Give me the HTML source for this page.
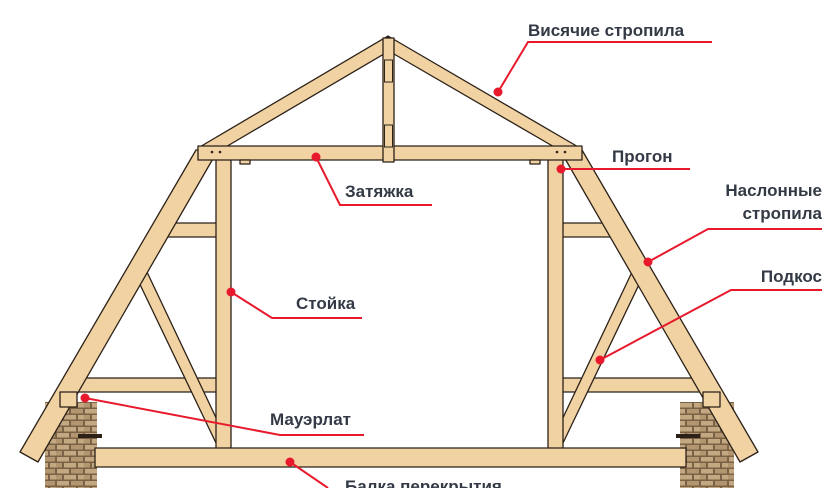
<!DOCTYPE html>
<html><head><meta charset="utf-8"><style>
html,body{margin:0;padding:0;background:#fff;width:840px;height:488px;overflow:hidden}
text{font-family:"Liberation Sans",sans-serif;font-weight:bold;font-size:17px;fill:#333a45}
</style></head><body>
<svg width="840" height="488" viewBox="0 0 840 488" xmlns="http://www.w3.org/2000/svg">
<defs>
<pattern id="brick" width="28" height="12" patternUnits="userSpaceOnUse">
<rect width="28" height="12" fill="#7a6246"/>
<rect x="1" y="1" width="12" height="4.5" fill="#c4a882"/><rect x="15" y="1" width="12" height="4.5" fill="#b39670"/>
<rect x="-6" y="7" width="12" height="4.5" fill="#b39670"/><rect x="8" y="7" width="12" height="4.5" fill="#c4a882"/><rect x="22" y="7" width="12" height="4.5" fill="#c4a882"/>
</pattern>
</defs>
<g stroke="#2b2118" stroke-width="1.3" fill="#f1d2a3" stroke-linejoin="round">
<rect x="45" y="402" width="52" height="90" fill="url(#brick)" stroke="none"/>
<rect x="680" y="402" width="54" height="90" fill="url(#brick)" stroke="none"/>
<rect x="168" y="223" width="50" height="14"/>
<rect x="562" y="223" width="50" height="14"/>
<rect x="68" y="378" width="150" height="14"/>
<rect x="562" y="378" width="150" height="14"/>
<polygon points="134,272 147,272 228,443 216,443"/>
<polygon points="645,272 632,272 551,443 563,443"/>
<polygon points="196,150 218,150 38,462 20,452"/>
<polygon points="582,150 560,150 740,462 758,452"/>
<rect x="216" y="158" width="15" height="298"/>
<rect x="548" y="158" width="15" height="298"/>
<rect x="95" y="448" width="591" height="19"/>
<polygon points="388,36 384,54 224,148 198,148"/>
<polygon points="388,36 394,54 556,148 580,148"/>
<rect x="198" y="146" width="384" height="14"/>
<rect x="383" y="38" width="11" height="124"/>
<rect x="60" y="392" width="17" height="15"/>
<rect x="703" y="392" width="17" height="15"/>
<rect x="240" y="160" width="10" height="4"/>
<rect x="530" y="160" width="10" height="4"/>
</g>
<g fill="#2b2118">
<circle cx="212" cy="152" r="1.3"/><circle cx="220" cy="152" r="1.3"/>
<circle cx="557" cy="152" r="1.3"/><circle cx="565" cy="152" r="1.3"/>
<rect x="384.5" y="60" width="8" height="22" fill="none" stroke="#2b2118"/>
<rect x="384.5" y="125" width="8" height="22" fill="none" stroke="#2b2118"/>
<rect x="78" y="434" width="24" height="4"/><rect x="676" y="434" width="24" height="4"/>
</g>
<g stroke="#e8192c" stroke-width="2" fill="none">
<polyline points="498,92 528,42 712,42"/>
<polyline points="561,169 690,169"/>
<polyline points="316,157 340,205 432,205"/>
<polyline points="648,262 708,229 822,229"/>
<polyline points="600,360 731,290 822,290"/>
<polyline points="231,292 272,318 362,318"/>
<polyline points="85,398 280,435 364,435"/>
<polyline points="290,462 328,488"/>
</g>
<g fill="#e8192c">
<circle cx="498" cy="92" r="4.5"/><circle cx="561" cy="169" r="4.5"/><circle cx="316" cy="157" r="4.5"/>
<circle cx="648" cy="262" r="4.5"/><circle cx="600" cy="360" r="4.5"/><circle cx="231" cy="292" r="4.5"/>
<circle cx="85" cy="398" r="4.5"/><circle cx="290" cy="462" r="4.5"/>
</g>
<text x="528" y="36">Висячие стропила</text>
<text x="612" y="162">Прогон</text>
<text x="345" y="197">Затяжка</text>
<text x="822" y="196" text-anchor="end">Наслонные</text>
<text x="822" y="219" text-anchor="end">стропила</text>
<text x="822" y="282" text-anchor="end">Подкос</text>
<text x="296" y="309">Стойка</text>
<text x="270" y="425">Мауэрлат</text>
<text x="345" y="492">Балка перекрытия</text>
</svg>
</body></html>
